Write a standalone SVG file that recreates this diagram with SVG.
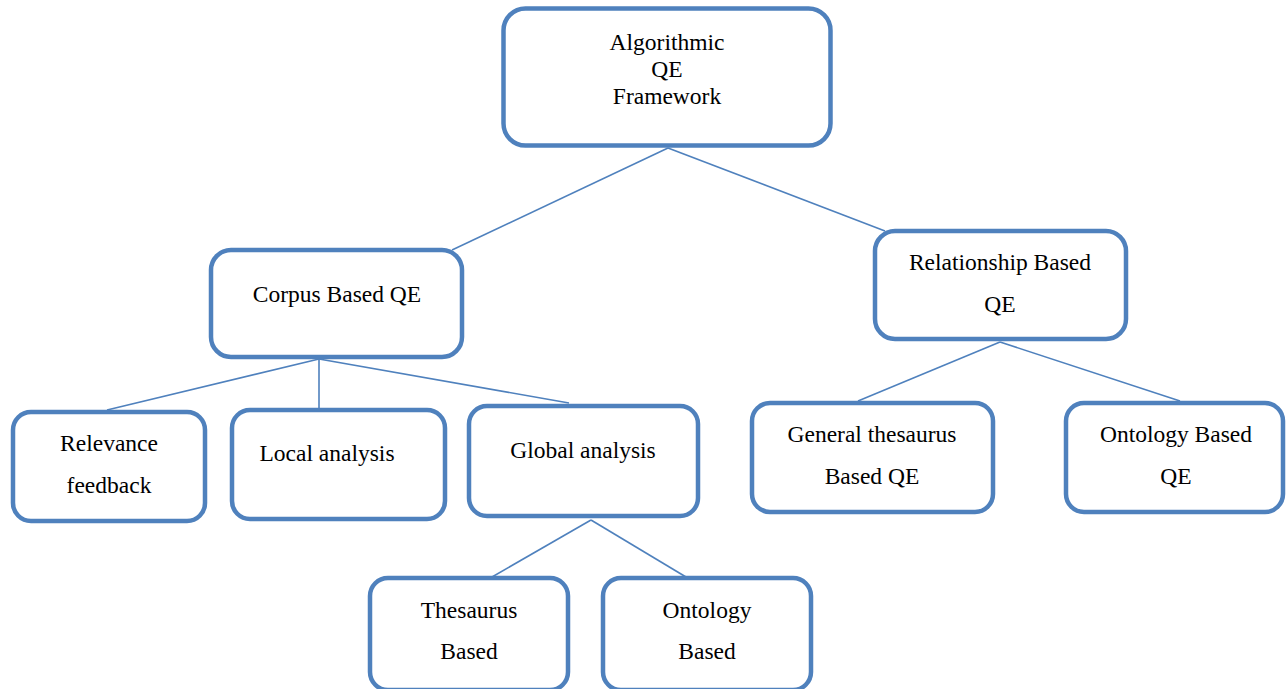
<svg xmlns="http://www.w3.org/2000/svg" width="1286" height="689" viewBox="0 0 1286 689">
<style>
.box{fill:#fff;stroke:#4F81BD;stroke-width:4.5}
text{font-family:'Liberation Serif','Times New Roman',Times,serif;font-size:23.5px;fill:#000;text-anchor:middle}
.c{stroke:#4F81BD;stroke-width:1.6;fill:none}
</style>
<rect width="1286" height="689" fill="#fff"/>
<g id="connectors">
<line class="c" x1="668" y1="148" x2="452" y2="250"/>
<line class="c" x1="668" y1="148" x2="885" y2="231"/>
<line class="c" x1="319" y1="359" x2="107" y2="410"/>
<line class="c" x1="319" y1="359" x2="319" y2="408"/>
<line class="c" x1="319" y1="359" x2="569" y2="403"/>
<line class="c" x1="1000" y1="342" x2="858" y2="401"/>
<line class="c" x1="1000" y1="342" x2="1180" y2="401"/>
<line class="c" x1="591" y1="520" x2="492" y2="577"/>
<line class="c" x1="591" y1="520" x2="686" y2="577"/>
</g>
<g id="root">
<rect class="box" x="503.5" y="8.5" width="327" height="137" rx="22"/>
<text x="667" y="50" font-family="Liberation Serif, serif">Algorithmic</text>
<text x="667" y="77" font-family="Liberation Serif, serif">QE</text>
<text x="667" y="104" font-family="Liberation Serif, serif">Framework</text>
</g>
<g id="corpus">
<rect class="box" x="211" y="250" width="251" height="107" rx="20"/>
<text x="337" y="302">Corpus Based QE</text>
</g>
<g id="relationship">
<rect class="box" x="875" y="231" width="251" height="108" rx="20"/>
<text x="1000" y="270">Relationship Based</text>
<text x="1000" y="312">QE</text>
</g>
<g id="relevance">
<rect class="box" x="13" y="412" width="192" height="109" rx="18"/>
<text x="109" y="451">Relevance</text>
<text x="109" y="493">feedback</text>
</g>
<g id="local">
<rect class="box" x="232" y="410" width="213" height="109" rx="18"/>
<text x="327" y="461">Local analysis</text>
</g>
<g id="global">
<rect class="box" x="469" y="406" width="229" height="110" rx="18"/>
<text x="583" y="458">Global analysis</text>
</g>
<g id="general">
<rect class="box" x="752" y="403" width="241" height="109" rx="18"/>
<text x="872" y="442">General thesaurus</text>
<text x="872" y="484">Based QE</text>
</g>
<g id="ontologyqe">
<rect class="box" x="1066" y="403" width="217" height="109" rx="18"/>
<text x="1176" y="442">Ontology Based</text>
<text x="1176" y="484">QE</text>
</g>
<g id="thesaurus">
<rect class="box" x="370" y="578" width="198" height="112" rx="18"/>
<text x="469" y="618">Thesaurus</text>
<text x="469" y="659">Based</text>
</g>
<g id="ontology">
<rect class="box" x="603" y="578" width="208" height="112" rx="18"/>
<text x="707" y="618">Ontology</text>
<text x="707" y="659">Based</text>
</g>
</svg>
